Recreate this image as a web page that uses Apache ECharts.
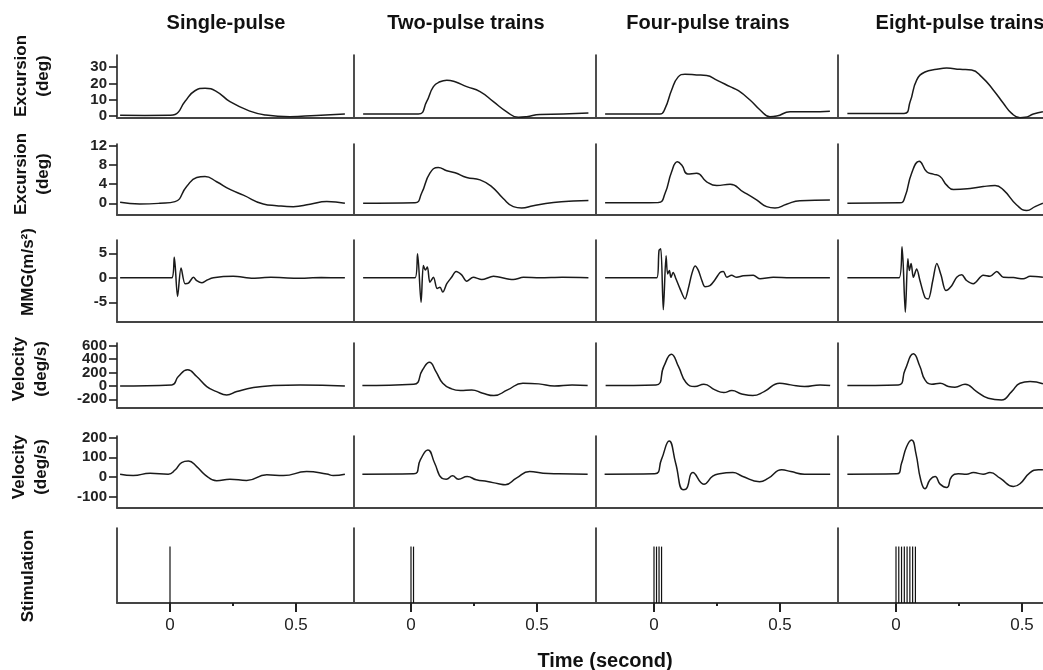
<!DOCTYPE html>
<html><head><meta charset="utf-8">
<script src="https://cdn.jsdelivr.net/npm/echarts@6/dist/echarts.min.js"></script>
<style>html,body{margin:0;padding:0;background:#fff}#c{width:1043px;height:670px}</style>
</head><body><div id="c"></div><script>
// ---------- labels ----------
const columnTitles = ['Single-pulse', 'Two-pulse trains', 'Four-pulse trains', 'Eight-pulse trains'];
const rowNames = ['Excursion\n(deg)', 'Excursion\n(deg)', 'MMG(m/s²)', 'Velocity\n(deg/s)', 'Velocity\n(deg/s)', 'Stimulation'];
const xAxisTitle = 'Time (second)';
const xTickValues = [0, 0.5];
const xMinorTickValues = [0.25];
const yTicksRow1 = [0, 10, 20, 30];
const yTicksRow2 = [0, 4, 8, 12];
const yTicksRow3 = [-5, 0, 5];
const yTicksRow4 = [-200, 0, 200, 400, 600];
const yTicksRow5 = [-100, 0, 100, 200];

// ---------- data: [time (s), value] ----------
const ex1_single = [[-0.198,0.5],[-0.1,0.4],[0.0,0.5],[0.02,0.9],[0.06,9],[0.099,15.5],[0.139,17],[0.185,15],[0.238,8.8],[0.317,3],[0.38,0.6],[0.476,-0.4],[0.58,0.4],[0.694,1.2]];
const ex1_two = [[-0.19,1.2],[0.029,1.2],[0.062,8.8],[0.089,18],[0.115,21],[0.142,22],[0.175,21],[0.221,18],[0.274,15],[0.327,8.8],[0.38,2.6],[0.426,-0.8],[0.459,-0.4],[0.512,1],[0.604,1.2],[0.704,1.8]];
const ex1_four = [[-0.194,1.2],[0.024,1.2],[0.044,4.7],[0.07,16],[0.096,24],[0.123,25.6],[0.169,25.2],[0.209,24.8],[0.249,22],[0.302,18],[0.335,15.5],[0.381,9.8],[0.421,3.7],[0.46,-0.4],[0.487,0],[0.54,2.6],[0.62,2.6],[0.698,3]];
const ex1_eight = [[-0.193,1.6],[0.032,1.6],[0.056,8.8],[0.082,22],[0.115,27],[0.162,28.6],[0.201,29.4],[0.254,28.6],[0.3,28.2],[0.34,24],[0.386,16],[0.426,7.8],[0.459,1.6],[0.492,-1],[0.512,-0.8],[0.545,1.2],[0.583,2.6]];

const ex2_single = [[-0.198,0.2],[-0.12,-0.15],[-0.04,0],[0.02,0.35],[0.066,3.5],[0.106,5.4],[0.139,5.6],[0.185,4.5],[0.238,2.9],[0.291,1.7],[0.37,-0.15],[0.423,-0.5],[0.489,-0.7],[0.556,-0.2],[0.622,0.35],[0.694,0]];
const ex2_two = [[-0.19,0],[0.016,0.1],[0.042,2.1],[0.075,6.3],[0.108,7.5],[0.142,6.8],[0.175,6.4],[0.221,5.4],[0.274,4.9],[0.32,3.5],[0.366,1],[0.406,-0.7],[0.439,-1],[0.485,-0.5],[0.565,0.15],[0.644,0.5],[0.704,0.6]];
const ex2_four = [[-0.194,0.1],[0.017,0.15],[0.044,2.1],[0.07,6.6],[0.093,8.7],[0.11,8],[0.134,6.1],[0.169,6.3],[0.209,4.5],[0.249,3.7],[0.302,4],[0.354,2.4],[0.407,0.7],[0.447,-0.7],[0.48,-1],[0.526,-0.2],[0.579,0.55],[0.698,0.7]];
const ex2_eight = [[-0.193,0],[0.016,0.1],[0.036,1.4],[0.062,6.3],[0.092,8.8],[0.122,6.6],[0.148,6.1],[0.175,5.6],[0.201,3.8],[0.228,2.9],[0.294,3.1],[0.346,3.5],[0.393,3.7],[0.426,2.8],[0.479,-0.35],[0.519,-1.5],[0.552,-0.7],[0.583,0]];

const mmg_single = [[-0.198,0],[0.007,0],[0.017,4.2],[0.03,-3.8],[0.044,2],[0.06,-1.2],[0.073,-1.1],[0.093,0.1],[0.106,-0.55],[0.126,-1],[0.146,-0.5],[0.172,0],[0.251,0.3],[0.33,-0.1],[0.4,0.1],[0.5,-0.1],[0.6,0.05],[0.694,0]];
const mmg_two = [[-0.19,0],[0.016,0],[0.026,4.9],[0.04,-5],[0.049,2.5],[0.057,1.6],[0.065,2.2],[0.075,-0.9],[0.089,0.1],[0.104,-2.2],[0.115,-1.9],[0.126,-2.9],[0.142,-1.2],[0.161,0.1],[0.179,1.3],[0.201,0.6],[0.221,-0.7],[0.247,0.1],[0.281,-0.35],[0.327,0.3],[0.406,-0.35],[0.446,0.1],[0.512,0],[0.6,0.1],[0.704,0]];
const mmg_four = [[-0.194,0],[0.011,0],[0.02,5.6],[0.027,5.9],[0.037,-6.5],[0.048,4.5],[0.054,0.8],[0.061,1.5],[0.067,0.1],[0.076,1.1],[0.087,-0.2],[0.103,-2.2],[0.123,-4.3],[0.136,-2.2],[0.15,0.8],[0.163,2.4],[0.176,1.5],[0.19,-0.55],[0.202,-1.8],[0.222,-1.6],[0.242,-0.4],[0.262,1.1],[0.275,1.3],[0.289,0.1],[0.308,0.5],[0.328,0.1],[0.354,0.4],[0.394,0.5],[0.421,-0.2],[0.473,0.1],[0.54,0],[0.698,0]];
const mmg_eight = [[-0.193,0],[0.012,0],[0.024,6.3],[0.037,-7],[0.047,3.9],[0.053,1.5],[0.06,2.9],[0.069,0.1],[0.082,1.8],[0.095,-0.55],[0.115,-4],[0.128,-4.3],[0.146,-0.55],[0.162,2.9],[0.179,0.5],[0.198,-2.6],[0.221,-1.6],[0.241,0.1],[0.261,0.6],[0.28,-0.55],[0.307,-1.2],[0.346,0.5],[0.373,0.3],[0.4,1.3],[0.426,0.1],[0.466,0.05],[0.505,-0.2],[0.532,0.3],[0.583,0.1]];

const vel1_single = [[-0.198,0],[0.007,15],[0.033,140],[0.07,240],[0.106,140],[0.146,-10],[0.185,-85],[0.225,-135],[0.265,-85],[0.331,-25],[0.41,5],[0.516,15],[0.694,0]];
const vel1_two = [[-0.193,5],[0.011,25],[0.046,240],[0.073,353],[0.099,213],[0.126,40],[0.161,-45],[0.196,-70],[0.241,-60],[0.285,-110],[0.329,-145],[0.383,-60],[0.444,40],[0.507,30],[0.569,0],[0.639,15],[0.701,5]];
const vel1_four = [[-0.192,5],[0.008,15],[0.039,290],[0.069,473],[0.097,290],[0.127,50],[0.162,-10],[0.198,25],[0.242,-60],[0.277,-100],[0.309,-70],[0.348,-120],[0.392,-145],[0.437,-85],[0.499,40],[0.543,15],[0.597,-10],[0.659,15],[0.699,5]];
const vel1_eight = [[-0.193,5],[0.009,15],[0.036,240],[0.069,478],[0.095,290],[0.115,90],[0.142,25],[0.175,40],[0.208,-10],[0.234,-20],[0.274,25],[0.32,-85],[0.366,-185],[0.419,-210],[0.459,-85],[0.492,40],[0.532,65],[0.583,30]];

const vel2_single = [[-0.198,15],[-0.146,8],[-0.079,20],[-0.007,15],[0.02,36],[0.046,73],[0.073,81],[0.106,53],[0.139,12],[0.185,-18],[0.238,-10],[0.304,-17],[0.384,12],[0.45,8],[0.542,28],[0.622,16],[0.648,8],[0.694,15]];
const vel2_two = [[-0.193,15],[0.011,17],[0.037,87],[0.067,137],[0.094,70],[0.122,-5],[0.14,-10],[0.165,7],[0.188,-10],[0.223,3],[0.259,-13],[0.303,-22],[0.347,-33],[0.374,-38],[0.418,-5],[0.471,28],[0.524,20],[0.587,17],[0.701,15]];
const vel2_four = [[-0.196,15],[0.003,17],[0.029,87],[0.06,182],[0.086,70],[0.115,-63],[0.127,-60],[0.154,23],[0.198,-35],[0.233,5],[0.26,17],[0.313,23],[0.35,5],[0.419,-23],[0.454,-5],[0.507,37],[0.543,28],[0.597,15],[0.699,15]];
const vel2_eight = [[-0.193,15],[0.003,17],[0.022,70],[0.042,153],[0.062,187],[0.079,120],[0.098,-13],[0.115,-58],[0.135,-13],[0.155,3],[0.175,-35],[0.201,-52],[0.221,3],[0.247,17],[0.28,15],[0.307,23],[0.346,15],[0.373,23],[0.413,-5],[0.466,-47],[0.492,-33],[0.532,23],[0.565,37],[0.583,37]];

// stimulation pulse times (s) and pulse height
const stim_single = [0];
const stim_two = [0, 0.01];
const stim_four = [0, 0.01, 0.02, 0.03];
const stim_eight = [0, 0.011, 0.022, 0.033, 0.044, 0.055, 0.066, 0.077];
const stimHeight = 1;

// ---------- layout (positions/styles) ----------
const FONT = "'Liberation Sans', Arial, Helvetica, sans-serif";
const colLeft = [117, 354, 596, 838];
const colZero = [170, 411, 654, 896];
const colRight = [354, 596, 838, 1043];
const PXPERSEC = 252;
const rowTop = [55, 144, 240, 343, 436, 528];
const rowBottom = [118, 215, 322, 408, 508, 603];
const rowRange = [[-1.2, 37.4], [-2.45, 12.4], [-9, 7.7], [-330, 640], [-155, 207], [0, 1.33]];
const rowTicks = [yTicksRow1, yTicksRow2, yTicksRow3, yTicksRow4, yTicksRow5, null];
const rowNamePos = [[32, 76], [32, 174], [28, 272], [30, 369], [30, 467], [28, 576]];
const titleX = [226, 466, 708, 960];

const traces = [
  [ex1_single, ex1_two, ex1_four, ex1_eight],
  [ex2_single, ex2_two, ex2_four, ex2_eight],
  [mmg_single, mmg_two, mmg_four, mmg_eight],
  [vel1_single, vel1_two, vel1_four, vel1_eight],
  [vel2_single, vel2_two, vel2_four, vel2_eight]
];
const stims = [stim_single, stim_two, stim_four, stim_eight];

const grids = [], xAxes = [], yAxes = [], series = [];
const extraX = [], extraY = [];

function yLabelStyle(vals) {
  return { show: true, interval: 0, customValues: vals, margin: 10, fontFamily: FONT, fontWeight: 'bold', fontSize: 15, lineHeight: 11, color: '#222', hideOverlap: false, showMinLabel: true, showMaxLabel: true };
}
function yTickStyle(vals) {
  return { show: true, interval: 0, customValues: vals, length: 8, lineStyle: { color: '#222', width: 1.6 } };
}

for (let r = 0; r < 6; r++) {
  for (let c = 0; c < 4; c++) {
    const gi = r * 4 + c;
    grids.push({ left: colLeft[c], top: rowTop[r], width: colRight[c] - colLeft[c], height: rowBottom[r] - rowTop[r], containLabel: false, outerBoundsMode: 'none' });
    const xmin = -(colZero[c] - colLeft[c]) / PXPERSEC;
    const xmax = (colRight[c] - colZero[c]) / PXPERSEC;
    const last = r === 5;
    xAxes.push({
      type: 'value', gridIndex: gi, min: xmin, max: xmax, position: 'bottom',
      splitLine: { show: false },
      axisLine: { show: true, onZero: false, lineStyle: { color: '#444', width: 2 } },
      axisTick: last ? { show: true, interval: 0, customValues: xTickValues, length: 9, lineStyle: { color: '#222', width: 2 } } : { show: false },
      axisLabel: last ? { show: true, interval: 0, customValues: xTickValues, margin: 14, fontFamily: FONT, fontSize: 17, color: '#222', hideOverlap: false } : { show: false }
    });
    if (last) {
      extraX.push({
        type: 'value', gridIndex: gi, min: xmin, max: xmax, position: 'bottom',
        splitLine: { show: false },
        axisLine: { show: false, onZero: false },
        axisTick: { show: true, interval: 0, customValues: xMinorTickValues, length: 3, lineStyle: { color: '#222', width: 2 } },
        axisLabel: { show: false }
      });
    }
    const ticks = (c === 0 && rowTicks[r]) ? rowTicks[r] : null;
    // split the tick values into two alternating sets so that dense labels are not thinned out
    const setA = ticks ? ticks.filter((v, i) => i % 2 === 0) : null;
    const setB = ticks ? ticks.filter((v, i) => i % 2 === 1) : null;
    yAxes.push({
      type: 'value', gridIndex: gi, min: rowRange[r][0], max: rowRange[r][1], position: 'left',
      splitLine: { show: false },
      axisLine: { show: true, onZero: false, lineStyle: { color: '#222', width: 1.6 } },
      axisTick: ticks ? yTickStyle(setA) : { show: false },
      axisLabel: ticks ? yLabelStyle(setA) : { show: false }
    });
    if (ticks) {
      extraY.push({
        type: 'value', gridIndex: gi, min: rowRange[r][0], max: rowRange[r][1], position: 'left', offset: 0,
        splitLine: { show: false },
        axisLine: { show: false, onZero: false },
        axisTick: yTickStyle(setB),
        axisLabel: yLabelStyle(setB)
      });
    }
    if (r < 5) {
      series.push({
        type: 'line', xAxisIndex: gi, yAxisIndex: gi, data: traces[r][c],
        symbol: 'none', smooth: r === 2 ? 0.3 : 0.5,
        lineStyle: { color: '#1a1a1a', width: 1.5 }, silent: true, animation: false
      });
    } else {
      series.push({
        type: 'bar', xAxisIndex: gi, yAxisIndex: gi, data: stims[c].map(t => [t, stimHeight]),
        barWidth: 1.2, itemStyle: { color: '#111' }, silent: true, animation: false
      });
    }
  }
}

const graphics = [];
columnTitles.forEach((t, i) => graphics.push({
  type: 'text', x: titleX[i], y: 23,
  style: { text: t, fontFamily: FONT, fontWeight: 'bold', fontSize: 20, fill: '#111', textAlign: 'center', textVerticalAlign: 'middle' }
}));
rowNames.forEach((t, i) => graphics.push({
  type: 'text', x: rowNamePos[i][0], y: rowNamePos[i][1], rotation: Math.PI / 2,
  style: { text: t, fontFamily: FONT, fontWeight: 'bold', fontSize: 17, lineHeight: 22, fill: '#111', textAlign: 'center', textVerticalAlign: 'middle' }
}));
graphics.push({
  type: 'text', x: 605, y: 661,
  style: { text: xAxisTitle, fontFamily: FONT, fontWeight: 'bold', fontSize: 20, fill: '#111', textAlign: 'center', textVerticalAlign: 'middle' }
});

const chart = echarts.init(document.getElementById('c'), null, { renderer: 'canvas' });
chart.setOption({
  animation: false,
  backgroundColor: '#fff',
  grid: grids,
  xAxis: xAxes.concat(extraX),
  yAxis: yAxes.concat(extraY),
  series: series,
  graphic: graphics
});
</script></body></html>
